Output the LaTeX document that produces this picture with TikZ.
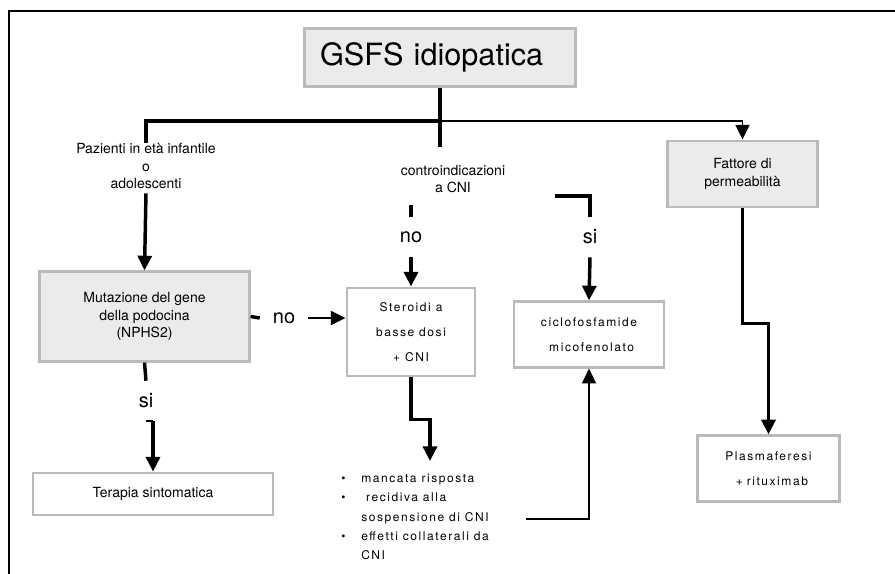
\documentclass[tikz,border=0pt]{standalone}
\usepackage{fontspec}
\setmainfont{TeX Gyre Heros}
\newfontfamily\spaced[LetterSpace=13]{TeX Gyre Heros}
\usetikzlibrary{arrows.meta}
\definecolor{boxgray}{RGB}{235,235,235}
\definecolor{rimgray}{RGB}{186,186,186}

\begin{document}
\begin{tikzpicture}[
    x=0.75pt, y=-0.75pt,
    conn/.style={draw=black, line width=2.6pt},
    fine/.style={draw=black, line width=1.4pt},
    arr/.style={-{Triangle[width=10.5pt,length=11pt]}},
    shaded/.style={rectangle, draw=rimgray, fill=boxgray, line width=2.2pt, align=center, inner sep=2pt},
    plain/.style={rectangle, draw=rimgray, fill=white, line width=2.2pt, align=center, inner sep=2pt},
    tag/.style={font=\fontsize{10.5}{13}\selectfont, align=center},
    sp/.style={font=\spaced\fontsize{9}{18.75}\selectfont, align=center},
    yn/.style={font=\fontsize{15}{18}\selectfont, minimum height=30pt, inner sep=0pt},
  ]
  \useasboundingbox (0,0) rectangle (895,574);

  %% ================= frame =================
  \draw[black, line width=1.5pt] (9,574) -- (9,11) -- (895,11);

  %% ================= boxes =================
  \node[shaded, align=left, text width=180pt, inner xsep=11.6pt, minimum height=44pt,
        font=\fontsize{23}{27}\selectfont]
    (title) at (440,57.5) {GSFS idiopatica};
  \node[shaded, minimum width=157pt, minimum height=67pt, tag] (mut) at (144.5,316.5)
    {Mutazione del gene\\della podocina\\(NPHS2)};
  \node[plain, minimum width=96pt, minimum height=66pt, sp] (ster) at (411,332)
    {Steroidi a\\basse dosi\\+ CNI};
  \node[plain, align=left, text width=90pt, inner xsep=11.25pt, minimum height=49pt, sp]
    (ciclo) at (589,334.5) {ciclofosfamide\\\hspace*{4pt}micofenolato};
  \node[shaded, minimum width=113pt, minimum height=49.5pt, tag] (fatt) at (742.5,174)
    {Fattore di\\permeabilità};
  \node[plain, align=left, text width=83pt, inner xsep=12pt, minimum height=49pt, sp]
    (plasma) at (768.5,468.5) {Plasmaferesi\\\hspace*{5pt}+ rituximab};
  \node[plain, minimum width=180pt, minimum height=31.5pt, tag] (terapia) at (153,494)
    {Terapia sintomatica};

  %% ================= labels =================
  \node[tag] (paz) at (146,166) {Pazienti in età infantile\\o\\adolescenti};
  \node[tag] (contro) at (453,179) {controindicazioni\\a CNI};
  \node[yn] (no1) at (411,237) {no};
  \node[yn] (si1) at (590,237) {si};
  \node[yn] (si2) at (146,401) {si};
  \node[yn, minimum width=36pt] (no2) at (284,318) {no};
  \node[sp, align=left, anchor=north west, inner sep=0pt, font=\spaced\fontsize{9}{14.4}\selectfont]
    (list) at (341,474)
    {\makebox[15pt][l]{\textbullet}mancata risposta\\
     \makebox[15pt][l]{\textbullet} recidiva alla\\
     \makebox[15pt][l]{}sospensione di CNI\\
     \makebox[15pt][l]{\textbullet}effetti collaterali da\\
     \makebox[15pt][l]{}CNI};

  \coordinate (j)     at (440,121);
  \coordinate (cend)  at (440,147);
  \coordinate (noA)   at (411,205);
  \coordinate (siA)   at (555,196);
  \coordinate (lsin)  at (430,461);
  \coordinate (lsout) at (526,519);

  %% ================= connectors =================
  \draw[conn] (title.south) -- (cend);
  \draw[conn] (j) -| ([yshift=-3pt]paz.north);
  \draw[fine, arr] (j) -| (fatt.north);
  \draw[conn, arr] (paz.south) -- (mut.north);

  % contraindications: no / si
  \draw[conn] (noA) -- (no1.north);
  \draw[conn, arr] (no1.south) -- (ster.north);
  \draw[conn] (siA) -| (si1.north);
  \draw[conn, arr] (si1.south) -- (ciclo.north);

  % podocin mutation: no / si
  \draw[conn] (mut.east) -- (no2.west);
  \draw[fine, arr] (no2.east) -- (no2.east -| ster.west);
  \draw[conn] (mut.south) -- (si2.north);
  \draw[fine] (si2.south) -- (si2.south -| terapia.north);
  \draw[conn, arr] (si2.south -| terapia.north) -- (terapia.north);

  % steroids, then failure goes to the other drugs
  \draw[conn, arr] (ster.south) -- ++(0,42) -| (lsin);
  \draw[fine, arr] (lsout) -| (ciclo.south);

  % permeability factor
  \draw[conn, arr] (fatt.south) -- ++(0,115) -| (plasma.north);

\end{tikzpicture}
\end{document}
